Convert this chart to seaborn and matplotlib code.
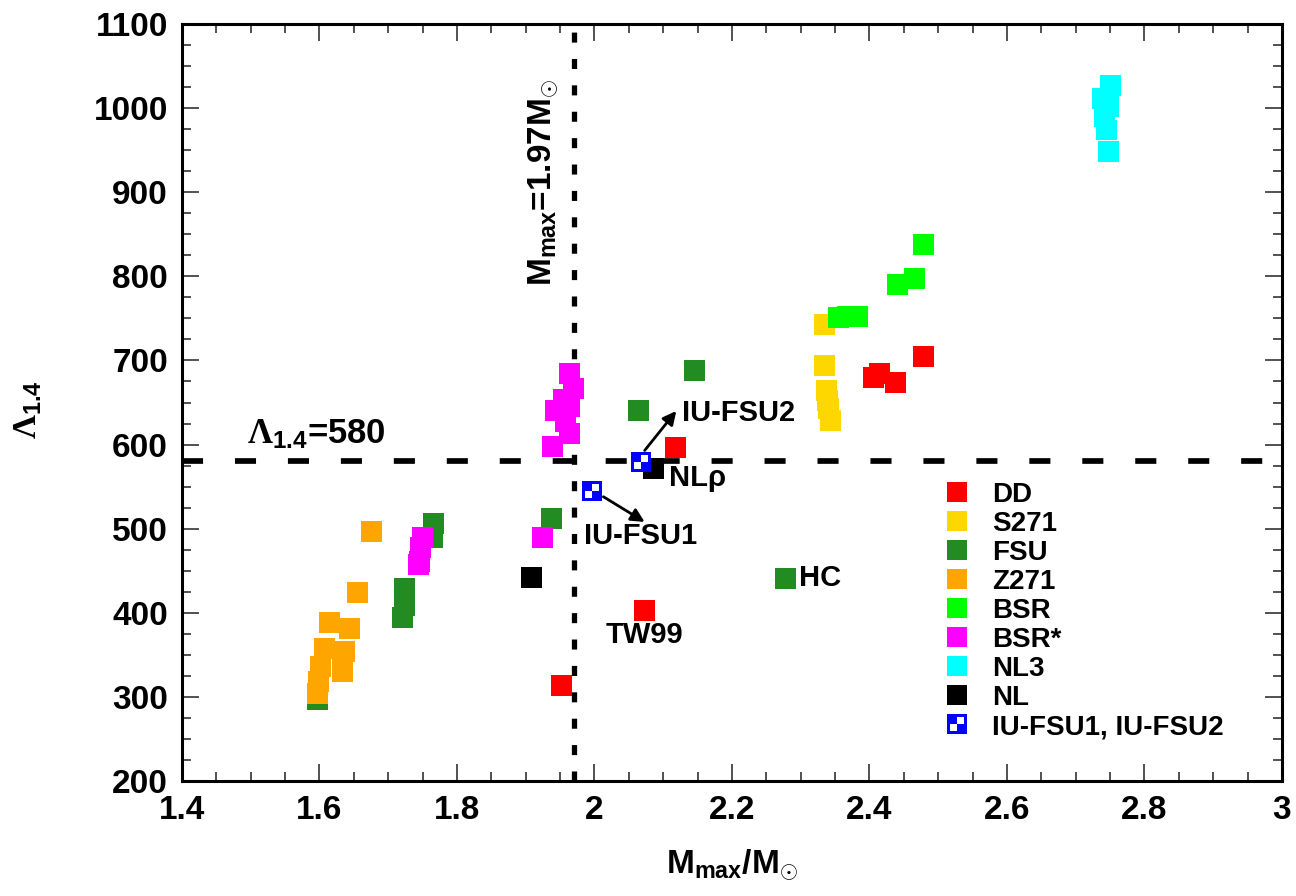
import matplotlib
matplotlib.use('Agg')
import matplotlib.pyplot as plt
import seaborn as sns
import pandas as pd
from matplotlib.lines import Line2D
from matplotlib.path import Path

# values (M_max in M_sun, Lambda_1.4)
dd_m = [2.479, 2.414, 2.406, 2.438, 2.118, 2.073, 1.952]
dd_l = [705, 684, 680, 674, 597, 403, 314]
s271_m = [2.334, 2.335, 2.338, 2.339, 2.341, 2.344]
s271_l = [743, 694, 664, 652, 643, 629]
fsu_m = [1.597, 1.721, 1.723, 1.724, 1.764, 1.766, 1.938, 2.064, 2.146, 2.278]
fsu_l = [297, 395, 409, 429, 490, 506, 512, 640, 688, 441]
z271_m = [1.597, 1.599, 1.602, 1.607, 1.633, 1.634, 1.636, 1.644, 1.615, 1.655, 1.676]
z271_l = [304, 318, 336, 358, 330, 343, 354, 381, 388, 424, 497]
bsr_m = [2.355, 2.368, 2.382, 2.441, 2.465, 2.479]
bsr_l = [751, 752, 752, 790, 798, 838]
bsrs_m = [1.744, 1.746, 1.747, 1.750, 1.925, 1.939, 1.963, 1.958, 1.943, 1.963, 1.955, 1.969, 1.963]
bsrs_l = [458, 461, 478, 490, 490, 598, 613, 627, 640, 645, 654, 667, 685]
nl3_m = [2.747, 2.745, 2.742, 2.748, 2.739, 2.750]
nl3_l = [949, 974, 990, 1002, 1011, 1027]
nl_m = [1.909, 2.086]
nl_l = [442, 572]
iu_m = [1.997, 2.067]
iu_l = [544.5, 579.6]

groups = ['DD', 'S271', 'FSU', 'Z271', 'BSR', 'BSR*', 'NL3', 'NL']
colors = ['#ff0000', '#ffd700', '#228b22', '#ffa500', '#00ff00', '#ff00ff', '#00ffff', '#000000']
masses = [dd_m, s271_m, fsu_m, z271_m, bsr_m, bsrs_m, nl3_m, nl_m]
lambdas = [dd_l, s271_l, fsu_l, z271_l, bsr_l, bsrs_l, nl3_l, nl_l]

frames = [pd.DataFrame({'mmax': m, 'lam': l, 'model': g}) for g, m, l in zip(groups, masses, lambdas)]
df = pd.concat(frames, ignore_index=True)

sns.set_style('ticks')
plt.rcParams['font.family'] = ['Liberation Sans', 'DejaVu Sans']
plt.rcParams['font.weight'] = 'bold'
for key in ['text.color', 'axes.labelcolor', 'xtick.color', 'ytick.color', 'axes.edgecolor']:
    plt.rcParams[key] = 'black'
plt.rcParams['mathtext.fontset'] = 'custom'
plt.rcParams['mathtext.rm'] = 'Liberation Serif'
plt.rcParams['mathtext.bf'] = 'Liberation Sans:bold'
plt.rcParams['mathtext.it'] = 'Liberation Sans:italic:bold'
plt.rcParams['mathtext.sf'] = 'Liberation Sans:bold'

fig = plt.figure(figsize=(12.96, 8.96), dpi=100)
ax = fig.add_axes([0.1404, 0.1283, 0.8488, 0.8449])

msize = 15.1
sns.scatterplot(data=df, x='mmax', y='lam', hue='model', hue_order=groups,
                palette=dict(zip(groups, colors)), marker='s', s=msize ** 2,
                linewidth=0, legend=False, ax=ax, zorder=3)

# checkered blue marker for IU-FSU1 / IU-FSU2
checker = Path([(0, 0), (1, 0), (1, 1), (0, 1), (0, 0),
                (-1, -1), (0, -1), (0, 0), (-1, 0), (-1, -1)],
               [Path.MOVETO, Path.LINETO, Path.LINETO, Path.LINETO, Path.CLOSEPOLY] * 2)
ax.scatter(iu_m, iu_l, marker='s', s=msize ** 2, color='#0000ff', linewidth=0, zorder=4)
ax.scatter(iu_m, iu_l, marker=checker, s=(0.66 * msize) ** 2, color='white', linewidth=0, zorder=5)

# reference lines
ax.axhline(580, color='black', lw=4.1, dashes=(3.7, 5.6), zorder=2)
ax.axvline(1.97, color='black', lw=3.8, dashes=(1.9, 3.1), zorder=2)

ax.set_xlim(1.4, 3.0)
ax.set_ylim(200, 1100)
ax.set_xticks([1.4, 1.6, 1.8, 2.0, 2.2, 2.4, 2.6, 2.8, 3.0])
ax.set_xticklabels(['1.4', '1.6', '1.8', '2', '2.2', '2.4', '2.6', '2.8', '3'],
                   fontsize=24, fontweight='bold')
ax.set_xticks([1.4 + 0.05 * i for i in range(33)], minor=True)
ax.set_yticks(range(200, 1101, 100))
ax.set_yticklabels([str(v) for v in range(200, 1101, 100)], fontsize=24, fontweight='bold')
ax.set_yticks(range(200, 1101, 25), minor=True)
ax.tick_params(which='both', direction='in', top=True, right=True, width=1.2, color='#333333')
ax.tick_params(which='major', length=12, pad=10)
ax.tick_params(which='minor', length=6.5)
for sp in ax.spines.values():
    sp.set_linewidth(2.2)
    sp.set_zorder(6)

ax.set_xlabel(r'$\mathbf{M_{max}/M_{\odot}}$', fontsize=24)
ax.xaxis.set_label_coords(0.5, -0.088)
ax.set_ylabel(r'$\Lambda_{\mathbf{1.4}}$', fontsize=24)
ax.yaxis.set_label_coords(-0.125, 0.49)

# annotations
ax.text(1.495, 612, r'$\Lambda_{\mathbf{1.4}}$' + '=580', fontsize=25, fontweight='bold',
        ha='left', va='center')
ax.text(1.927, 912, r'$\mathbf{M_{max}}$' + '=1.97' + r'$\mathbf{M_{\odot}}$', fontsize=24,
        fontweight='bold', rotation=90, ha='center', va='center')
ax.text(2.127, 637, 'IU-FSU2', fontsize=21, fontweight='bold', ha='left', va='center')
ax.text(1.985, 491, 'IU-FSU1', fontsize=21, fontweight='bold', ha='left', va='center')
ax.text(2.108, 560, 'NLρ', fontsize=21, fontweight='bold', ha='left', va='center')
ax.text(2.297, 441, 'HC', fontsize=21, fontweight='bold', ha='left', va='center')
ax.text(2.073, 374, 'TW99', fontsize=21, fontweight='bold', ha='center', va='center')
arrow = dict(arrowstyle='-|>', color='black', lw=2, mutation_scale=20, shrinkA=0, shrinkB=0)
ax.annotate('', xy=(2.119, 640), xytext=(2.073, 593), arrowprops=arrow, zorder=6)
ax.annotate('', xy=(2.073, 508), xytext=(2.013, 538), arrowprops=arrow, zorder=6)

# legend
handles = [Line2D([], [], ls='', marker='s', markersize=msize, mew=0, color=c) for c in colors]
iu_handle = (Line2D([], [], ls='', marker='s', markersize=msize, mew=0, color='#0000ff'),
             Line2D([], [], ls='', marker=checker, markersize=0.66 * msize, mew=0, color='white'))
handles.append(iu_handle)
labels = groups + ['IU-FSU1, IU-FSU2']
ax.legend(handles, labels, loc='upper left', bbox_to_anchor=(0.6917, 0.3956), frameon=False,
          prop={'size': 20, 'weight': 'bold'}, handlelength=1.0, handletextpad=0.76,
          labelspacing=0.11, borderpad=0, borderaxespad=0)

plt.savefig('out.png', dpi=100)
plt.close()
